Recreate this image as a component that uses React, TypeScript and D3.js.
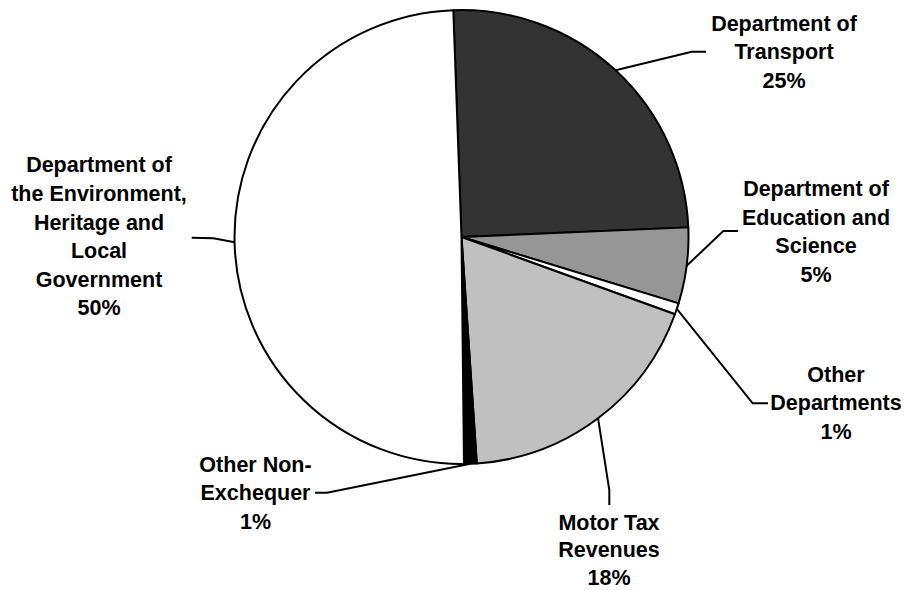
import React from "react";
import * as d3 from "d3";

// ---- data ----
const categories: string[][] = [
  ["Department of", "Transport"],
  ["Department of", "Education and", "Science"],
  ["Other", "Departments"],
  ["Motor Tax", "Revenues"],
  ["Other Non-", "Exchequer"],
  ["Department of", "the Environment,", "Heritage and", "Local", "Government"],
];
const values: number[] = [24.9, 5.4, 0.8, 18.4, 0.9, 49.6];
const colors: string[] = ["#333333", "#969696", "#ffffff", "#c0c0c0", "#000000", "#ffffff"];

// ---- layout (label placement as in the reference) ----
const labelLayout = [
  { cx: 784, y0: 30.5, lh: 28.6, anchor: [706, 51.7], bend: [691.7, 51.7] },
  { cx: 816, y0: 196, lh: 28.6, anchor: [738, 231], bend: [723.3, 231] },
  { cx: 836, y0: 381.7, lh: 28.6, anchor: [768, 403.3], bend: [752.7, 403.3] },
  { cx: 609, y0: 529.5, lh: 27.8, anchor: [609.3, 505], bend: [609.3, 490] },
  { cx: 255.5, y0: 471.7, lh: 28.6, anchor: [315, 492.7], bend: [327, 492.7] },
  { cx: 99, y0: 172.3, lh: 28.6, anchor: [191.7, 237.7], bend: [213.3, 238.3] },
];

const W = 905;
const H = 590;
const CX = 461.5;
const CY = 237;
const R = 227;
const START = (-2.07 * Math.PI) / 180;
const FONT = "'Liberation Sans', Arial, Helvetica, sans-serif";

export default function App() {
  const total = d3.sum(values);
  const pie = d3
    .pie<number>()
    .sort(null)
    .value((d) => d)
    .startAngle(START)
    .endAngle(START + 2 * Math.PI);
  const arcs = pie(values);
  const arc = d3.arc<d3.PieArcDatum<number>>().innerRadius(0).outerRadius(R);

  return (
    <svg
      width={W}
      height={H}
      style={{ position: "absolute", left: 0, top: 0, background: "#ffffff" }}
    >
      <g transform={`translate(${CX},${CY})`}>
        {arcs.map((a, i) => (
          <path
            key={i}
            d={arc(a) || ""}
            fill={colors[i]}
            stroke="#000"
            strokeWidth={2}
            strokeLinejoin="round"
          />
        ))}
      </g>
      {arcs.map((a, i) => {
        const mid = (a.startAngle + a.endAngle) / 2;
        const sx = CX + R * Math.sin(mid);
        const sy = CY - R * Math.cos(mid);
        const L = labelLayout[i];
        return (
          <polyline
            key={"l" + i}
            points={`${sx},${sy} ${L.bend[0]},${L.bend[1]} ${L.anchor[0]},${L.anchor[1]}`}
            fill="none"
            stroke="#000"
            strokeWidth={2}
          />
        );
      })}
      {arcs.map((a, i) => {
        const L = labelLayout[i];
        const pct = Math.round((values[i] / total) * 100) + "%";
        const lines = [...categories[i], pct];
        return (
          <text
            key={"t" + i}
            textAnchor="middle"
            fontFamily={FONT}
            fontWeight="bold"
            fontSize={21.5}
            fill="#000"
          >
            {lines.map((ln, j) => (
              <tspan key={j} x={L.cx} y={L.y0 + j * L.lh}>
                {ln}
              </tspan>
            ))}
          </text>
        );
      })}
    </svg>
  );
}
